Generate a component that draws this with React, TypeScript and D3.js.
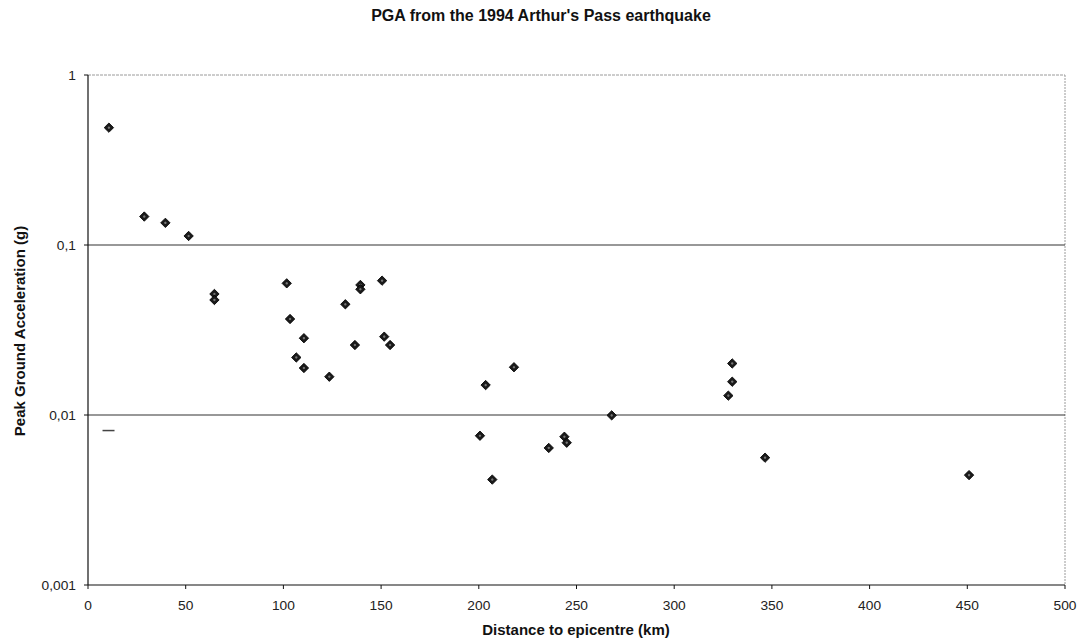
import React from "react";
import * as d3 from "d3";

const title = "PGA from the 1994 Arthur's Pass earthquake";
const xLabel = "Distance to epicentre (km)";
const yLabel = "Peak Ground Acceleration (g)";
const xTicks = [0, 50, 100, 150, 200, 250, 300, 350, 400, 450, 500];
const yTicks = [0.001, 0.01, 0.1, 1];
const yTickLabels = ["0,001", "0,01", "0,1", "1"];
const gridValues = [0.01, 0.1];

const distance = [
  10.7, 28.8, 39.6, 51.5, 64.7, 64.7, 101.7, 103.4, 110.5, 106.6, 110.5, 123.5,
  131.7, 136.6, 139.4, 139.4, 150.5, 151.6, 154.6, 218, 203.5, 200.6, 206.9,
  235.8, 243.8, 245, 268, 329.7, 329.7, 327.7, 346.5, 450.9,
];
const pga = [
  0.49, 0.147, 0.135, 0.113, 0.0515, 0.0475, 0.0595, 0.0367, 0.0283, 0.0218,
  0.0189, 0.0168, 0.0448, 0.0258, 0.0582, 0.0549, 0.0617, 0.0289, 0.0258,
  0.0191, 0.015, 0.00755, 0.00417, 0.0064, 0.00745, 0.00687, 0.00995, 0.0201,
  0.0157, 0.013, 0.00561, 0.00443,
];
// small dash artefact near the y axis
const dashX = [10.5];
const dashY = [0.0081];

const W = 1083;
const H = 643;
const left = 88;
const right = 1065;
const top = 75;
const bottom = 585;

export default function App() {
  const x = d3.scaleLinear().domain([0, 500]).range([left, right]);
  const y = d3.scaleLog().domain([0.001, 1]).range([bottom, top]);
  const diamond = d3.symbol().type(d3.symbolSquare).size(44)() as string;
  const font = "'Liberation Sans', Arial, sans-serif";

  return (
    <svg
      width={W}
      height={H}
      style={{ position: "absolute", left: 0, top: 0, background: "#fff" }}
      fontFamily={font}
    >
      <rect x={0} y={0} width={W} height={H} fill="#fff" />
      <text x={541} y={21} textAnchor="middle" fontSize={16} fontWeight="bold" fill="#111">
        {title}
      </text>

      {/* top & right border */}
      <line x1={left} x2={right} y1={y(1)} y2={y(1)} stroke="#9a9a9a" strokeWidth={1} strokeDasharray="3,1" />
      <line x1={right} x2={right} y1={top} y2={bottom} stroke="#9a9a9a" strokeWidth={1} strokeDasharray="2,1" />

      {/* gridlines */}
      {gridValues.map((v) => (
        <line key={v} x1={left} x2={right} y1={y(v)} y2={y(v)} stroke="#333" strokeWidth={1.2} />
      ))}

      {/* axes */}
      <line x1={left} x2={left} y1={top} y2={bottom} stroke="#111" strokeWidth={1.2} />
      <line x1={left} x2={right} y1={bottom} y2={bottom} stroke="#111" strokeWidth={1.2} />

      {yTicks.map((v, i) => (
        <g key={v}>
          <line x1={left - 4} x2={left} y1={y(v)} y2={y(v)} stroke="#111" />
          <text
            transform={`translate(${left - 12},${y(v) + 4.5}) scale(1.06,1)`}
            textAnchor="end"
            fontSize={13}
            fill="#222"
          >
            {yTickLabels[i]}
          </text>
        </g>
      ))}
      {xTicks.map((v) => (
        <g key={v}>
          <line x1={x(v)} x2={x(v)} y1={bottom} y2={bottom + 4} stroke="#111" />
          <text
            transform={`translate(${x(v)},${bottom + 25}) scale(1.06,1)`}
            textAnchor="middle"
            fontSize={13}
            fill="#222"
          >
            {v}
          </text>
        </g>
      ))}

      <text x={576} y={635} textAnchor="middle" fontSize={15} fontWeight="bold" fill="#111">
        {xLabel}
      </text>
      <text
        transform="translate(25,331) rotate(-90)"
        textAnchor="middle"
        fontSize={15}
        fontWeight="bold"
        fill="#111"
      >
        {yLabel}
      </text>

      {distance.map((d, i) => (
        <g key={i} transform={`translate(${x(d)},${y(pga[i])}) rotate(45)`}>
          <path d={diamond} fill="#1a1a1a" stroke="#000" strokeWidth={0.8} />
          <circle r={1.2} fill="#777" />
        </g>
      ))}

      {dashX.map((d, i) => (
        <line key={i} x1={x(d) - 6} x2={x(d) + 6} y1={y(dashY[i])} y2={y(dashY[i])} stroke="#444" strokeWidth={1.5} />
      ))}
    </svg>
  );
}
